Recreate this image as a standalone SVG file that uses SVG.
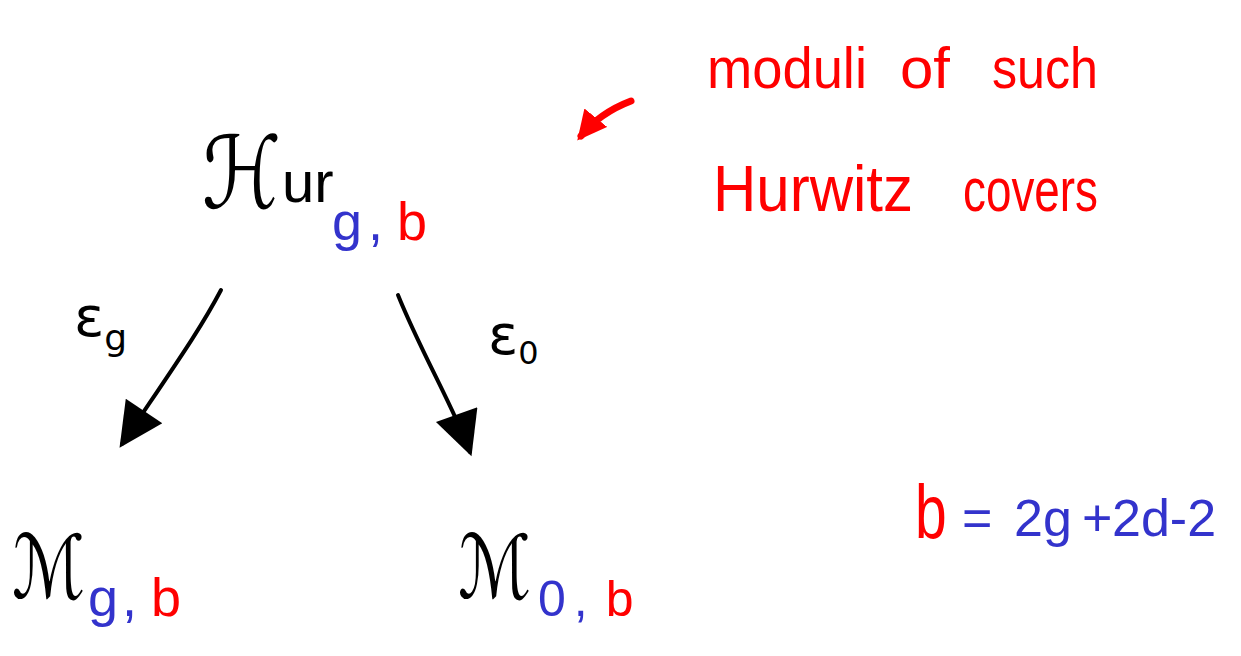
<svg xmlns="http://www.w3.org/2000/svg" width="1241" height="656" viewBox="0 0 1241 656">
<style>
.blk{fill:#000;font-family:"DejaVu Sans","Liberation Sans",sans-serif}
.red{fill:#ff0000}
.blu{fill:#3333cc}
.hand{font-family:"Liberation Sans","DejaVu Sans",sans-serif}
.ln{fill:none;stroke:#000;stroke-width:4;stroke-linecap:round;stroke-linejoin:round}
.rln{fill:none;stroke:#ff0000;stroke-width:7;stroke-linecap:round}
</style>
<defs>
<marker id="ah" viewBox="0 0 10 10" refX="9" refY="5" markerWidth="12" markerHeight="11" markerUnits="strokeWidth" orient="auto">
<path d="M0,0 L10,5 L0,10 z" fill="#000"/>
</marker>
<marker id="rah" viewBox="0 0 10 10" refX="8" refY="5" markerWidth="4.2" markerHeight="4.2" markerUnits="strokeWidth" orient="auto">
<path d="M0,0 L10,5 L0,10 z" fill="#ff0000"/>
</marker>
</defs>
<rect width="1241" height="656" fill="#fff"/>
<g id="hur">
<text transform="translate(202,208) scale(0.8,1)" class="blk" font-size="100">ℋ</text>
<text x="282" y="202" class="hand" font-size="58" fill="#000">ur</text>
<text x="332" y="240" class="hand" font-size="54"><tspan class="blu">g</tspan><tspan class="blu" dx="6">,</tspan><tspan class="red" dx="14">b</tspan></text>
</g>
<g id="mgb">
<text transform="translate(12,598) scale(0.78,1)" class="blk" font-size="88">ℳ</text>
<text x="88" y="616" class="hand" font-size="54"><tspan class="blu">g</tspan><tspan class="blu" dx="4">,</tspan><tspan class="red" dx="14">b</tspan></text>
</g>
<g id="m0b">
<text transform="translate(458,598) scale(0.78,1)" class="blk" font-size="88">ℳ</text>
<text x="538" y="616" class="hand" font-size="50"><tspan class="blu">0</tspan><tspan class="blu" dx="8">,</tspan><tspan class="red" dx="18">b</tspan></text>
</g>
<g id="connectors">
<path class="ln" d="M221,290 C200,330 175,365 122,444" marker-end="url(#ah)"/>
<path class="ln" d="M398,295 C420,350 455,410 470,452" marker-end="url(#ah)"/>
<path class="rln" d="M631,101 C610,109 594,120 581,136" marker-end="url(#rah)"/>
<text x="74" y="336" class="blk" font-size="56" font-family="DejaVu Serif, serif">ε<tspan font-size="36" dy="14">g</tspan></text>
<text x="488" y="354" class="blk" font-size="56" font-family="DejaVu Serif, serif">ε<tspan font-size="32" dy="10">0</tspan></text>
</g>
<g id="note">
<text x="707" y="88" class="hand red" font-size="58" textLength="160" lengthAdjust="spacingAndGlyphs">moduli</text>
<text x="900" y="88" class="hand red" font-size="58" textLength="50" lengthAdjust="spacingAndGlyphs">of</text>
<text x="992" y="88" class="hand red" font-size="58" textLength="106" lengthAdjust="spacingAndGlyphs">such</text>
<text x="713" y="211" class="hand red" font-size="64" textLength="200" lengthAdjust="spacingAndGlyphs">Hurwitz</text>
<text x="963" y="211" class="hand red" font-size="62" textLength="135" lengthAdjust="spacingAndGlyphs">covers</text>
</g>
<g id="formula">
<text transform="translate(915,538) scale(0.75,1)" class="hand red" font-size="76">b</text>
<text y="536" class="hand blu" font-size="52"><tspan x="962">=</tspan><tspan x="1014">2g</tspan><tspan x="1082">+</tspan><tspan x="1112">2d-2</tspan></text>
</g>
</svg>
